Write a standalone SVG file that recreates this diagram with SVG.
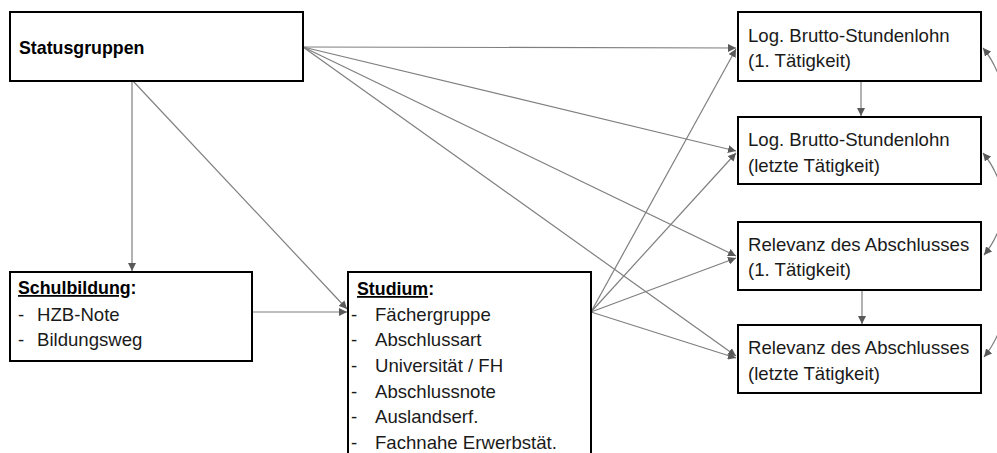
<svg xmlns="http://www.w3.org/2000/svg" width="997" height="453" viewBox="0 0 997 453">
<style>
.box{fill:#fff;stroke:#000;stroke-width:2}
.t{font-family:"Liberation Sans",Arial,sans-serif;font-size:18.6px;fill:#1a1a1a}
.b{font-family:"Liberation Sans",Arial,sans-serif;font-size:17.8px;font-weight:bold;fill:#000}
.c{fill:none;stroke:#7f7f7f;stroke-width:1.2}
</style>
<defs>
<marker id="ah" viewBox="0 0 10 10" refX="10" refY="5" markerWidth="8" markerHeight="8" markerUnits="userSpaceOnUse" orient="auto-start-reverse">
<path d="M0,0 L10,5 L0,10 z" fill="#595959"/>
</marker>
</defs>
<rect width="997" height="453" fill="#fff"/>
<g id="connectors">
<path class="c" d="M132,81 V271" marker-end="url(#ah)"/>
<path class="c" d="M133,81 L347,309" marker-end="url(#ah)"/>
<path class="c" d="M252,312 H347" marker-end="url(#ah)"/>
<path class="c" d="M303,47 L736,48" marker-end="url(#ah)"/>
<path class="c" d="M303,47 L736,151" marker-end="url(#ah)"/>
<path class="c" d="M303,47 L736,256" marker-end="url(#ah)"/>
<path class="c" d="M303,47 L736,356" marker-end="url(#ah)"/>
<path class="c" d="M591,312 L736,49" marker-end="url(#ah)"/>
<path class="c" d="M591,312 L736,153" marker-end="url(#ah)"/>
<path class="c" d="M591,312 L736,258" marker-end="url(#ah)"/>
<path class="c" d="M591,312 L736,358" marker-end="url(#ah)"/>
<path class="c" d="M861,81 V116" marker-end="url(#ah)"/>
<path class="c" d="M862,290 V324" marker-end="url(#ah)"/>
<path class="c" d="M983,48 C1022,95 1022,210 984,255" marker-start="url(#ah)" marker-end="url(#ah)"/>
<path class="c" d="M983,153 C1022,200 1022,312 984,357" marker-start="url(#ah)" marker-end="url(#ah)"/>
</g>
<g id="statusgruppen">
<rect class="box" x="10" y="12" width="293" height="69"/>
<text class="b" x="19" y="54">Statusgruppen</text>
</g>
<g id="schulbildung">
<rect class="box" x="10" y="272" width="242" height="89"/>
<text class="b" x="18" y="294"><tspan text-decoration="underline">Schulbildung</tspan>:</text>
<text class="t" x="18" y="321">-</text><text class="t" x="37" y="321">HZB-Note</text>
<text class="t" x="18" y="346">-</text><text class="t" x="37" y="346">Bildungsweg</text>
</g>
<g id="studium">
<rect class="box" x="348" y="272" width="243" height="200"/>
<text class="b" x="357" y="295"><tspan text-decoration="underline">Studium</tspan>:</text>
<text class="t" x="351" y="321">-</text><text class="t" x="375" y="321">Fächergruppe</text>
<text class="t" x="351" y="346">-</text><text class="t" x="375" y="346">Abschlussart</text>
<text class="t" x="351" y="372">-</text><text class="t" x="375" y="372">Universität / FH</text>
<text class="t" x="351" y="398">-</text><text class="t" x="375" y="398">Abschlussnote</text>
<text class="t" x="351" y="423">-</text><text class="t" x="375" y="423">Auslandserf.</text>
<text class="t" x="351" y="449">-</text><text class="t" x="375" y="449">Fachnahe Erwerbstät.</text>
</g>
<g id="lohn1">
<rect class="box" x="738" y="12" width="243" height="69"/>
<text class="t" x="748" y="42">Log. Brutto-Stundenlohn</text>
<text class="t" x="748" y="67">(1. Tätigkeit)</text>
</g>
<g id="lohn2">
<rect class="box" x="738" y="117" width="243" height="67"/>
<text class="t" x="748" y="146">Log. Brutto-Stundenlohn</text>
<text class="t" x="748" y="172">(letzte Tätigkeit)</text>
</g>
<g id="relevanz1">
<rect class="box" x="738" y="222" width="243" height="68"/>
<text class="t" x="748" y="251">Relevanz des Abschlusses</text>
<text class="t" x="748" y="276">(1. Tätigkeit)</text>
</g>
<g id="relevanz2">
<rect class="box" x="738" y="325" width="243" height="68"/>
<text class="t" x="748" y="354">Relevanz des Abschlusses</text>
<text class="t" x="748" y="380">(letzte Tätigkeit)</text>
</g>
</svg>
